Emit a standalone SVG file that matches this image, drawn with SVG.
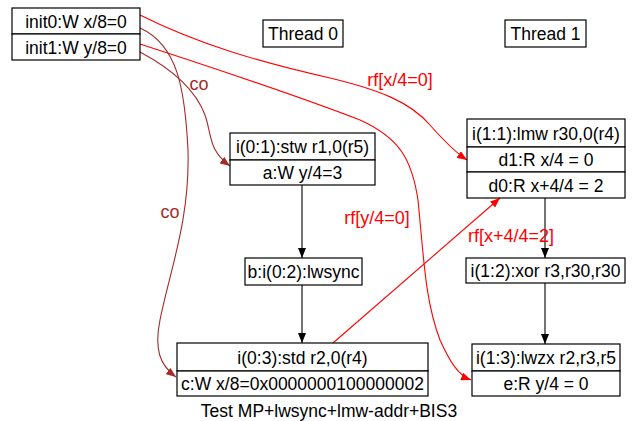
<svg xmlns="http://www.w3.org/2000/svg" width="638" height="421" viewBox="0 0 638 421">
<defs>
<style>
text{font-family:"Liberation Sans","DejaVu Sans",sans-serif;font-size:17.5px;text-anchor:middle;fill:#000}
.box{fill:#fff;stroke:#000;stroke-width:1.2}
.e{fill:none;stroke-width:1.1}
.blk{stroke:#000}
.red{stroke:#ff0000}
.brn{stroke:#a52a2a}
text.r{fill:#ff0000;font-size:18px}
text.b{fill:#a52a2a;font-size:18px}
</style>
<marker id="ab" markerWidth="10" markerHeight="8" refX="10" refY="4" orient="auto" markerUnits="userSpaceOnUse"><path d="M0,0 L10,4 L0,8 z" fill="#000"/></marker>
<marker id="ar" markerWidth="10" markerHeight="8" refX="10" refY="4" orient="auto" markerUnits="userSpaceOnUse"><path d="M0,0 L10,4 L0,8 z" fill="#ff0000"/></marker>
<marker id="an" markerWidth="10" markerHeight="8" refX="10" refY="4" orient="auto" markerUnits="userSpaceOnUse"><path d="M0,0 L10,4 L0,8 z" fill="#a52a2a"/></marker>
</defs>
<rect width="638" height="421" fill="#fff"/>

<g id="edges">
<path class="e blk" d="M302,185 L302,258" marker-end="url(#ab)"/>
<path class="e blk" d="M302,285 L302,343" marker-end="url(#ab)"/>
<path class="e blk" d="M545,198 L545,258" marker-end="url(#ab)"/>
<path class="e blk" d="M545,283 L545,344" marker-end="url(#ab)"/>
<path class="e red" d="M140,15 C200,45 260,62 330,78 C380,90 410,102 430,125 C445,142 455,152 467,160" marker-end="url(#ar)"/>
<path class="e red" d="M140,44 C220,70 300,97 360,120 C400,138 412,160 418,200 C424,260 425,300 440,340 C450,362 458,375 471,380" marker-end="url(#ar)"/>
<path class="e red" d="M333,343 L500,198" marker-end="url(#ar)"/>
<path class="e brn" d="M140,52 C170,68 195,88 205,115 C212,135 208,150 230,166" marker-end="url(#an)"/>
<path class="e brn" d="M140,28 C178,45 185,90 188,150 C190,220 170,270 160,320 C154,350 160,365 176,377" marker-end="url(#an)"/>
<text class="r" x="400" y="86">rf[x/4=0]</text>
<text class="r" x="377" y="224">rf[y/4=0]</text>
<text class="r" x="511" y="242">rf[x+4/4=2]</text>
<text class="b" x="199" y="90">co</text>
<text class="b" x="170" y="218">co</text>
</g>

<g id="init0"><rect class="box" x="12" y="8" width="128" height="26"/><text x="76" y="28">init0:W x/8=0</text></g>
<g id="init1"><rect class="box" x="12" y="34" width="128" height="26"/><text x="76" y="54">init1:W y/8=0</text></g>

<g id="thread0"><rect class="box" x="263" y="20" width="80" height="27"/><text x="303" y="40">Thread 0</text></g>
<g id="thread1"><rect class="box" x="505" y="20" width="81" height="27"/><text x="545.5" y="40">Thread 1</text></g>

<g id="a"><rect class="box" x="230" y="133" width="145" height="27"/><text x="302.5" y="153">i(0:1):stw r1,0(r5)</text>
<rect class="box" x="230" y="160" width="145" height="25"/><text x="302.5" y="179">a:W y/4=3</text></g>

<g id="b"><rect class="box" x="245" y="258" width="117" height="27"/><text x="303.5" y="278">b:i(0:2):lwsync</text></g>

<g id="c"><rect class="box" x="177" y="343" width="251" height="28"/><text x="302.5" y="364">i(0:3):std r2,0(r4)</text>
<rect class="box" x="177" y="371" width="251" height="25"/><text x="302.5" y="390">c:W x/8=0x0000000100000002</text></g>

<g id="d"><rect class="box" x="467" y="119" width="158" height="28"/><text x="546" y="140">i(1:1):lmw r30,0(r4)</text>
<rect class="box" x="467" y="147" width="158" height="25"/><text x="546" y="166">d1:R x/4 = 0</text>
<rect class="box" x="467" y="172" width="158" height="26"/><text x="546" y="192">d0:R x+4/4 = 2</text></g>

<g id="xor"><rect class="box" x="466" y="258" width="159" height="25"/><text x="545.5" y="277">i(1:2):xor r3,r30,r30</text></g>

<g id="e"><rect class="box" x="472" y="344" width="148" height="27"/><text x="546" y="364">i(1:3):lwzx r2,r3,r5</text>
<rect class="box" x="472" y="371" width="148" height="25"/><text x="546" y="390">e:R y/4 = 0</text></g>

<text x="329" y="417">Test MP+lwsync+lmw-addr+BIS3</text>
</svg>
